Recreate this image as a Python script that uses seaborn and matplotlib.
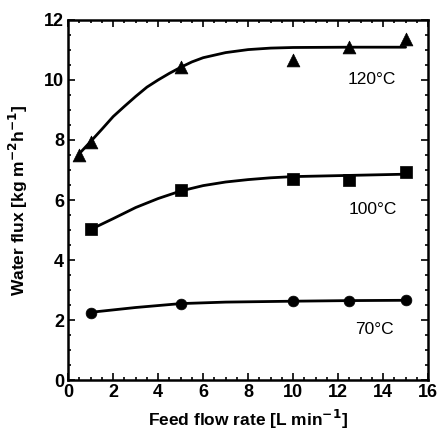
import numpy as np
import pandas as pd
import matplotlib
matplotlib.use("Agg")
import matplotlib.pyplot as plt
import seaborn as sns
from matplotlib.ticker import MultipleLocator

# measured points
flow_120 = [0.5, 1, 5, 10, 12.5, 15]
flux_120 = [7.49, 7.94, 10.42, 10.68, 11.1, 11.35]
flow_100 = [1, 5, 10, 12.5, 15]
flux_100 = [5.02, 6.32, 6.71, 6.68, 6.93]
flow_70 = [1, 5, 10, 12.5, 15]
flux_70 = [2.25, 2.53, 2.63, 2.63, 2.66]

# fitted curves
fit_x_120 = [0.5, 1, 1.5, 2, 2.5, 3, 3.5, 4, 4.5, 5, 5.5, 6, 7, 8, 9, 10, 12.5, 15]
fit_y_120 = [7.55, 7.95, 8.36, 8.78, 9.12, 9.45, 9.76, 10.0, 10.22, 10.42, 10.6,
             10.74, 10.91, 11.01, 11.06, 11.08, 11.09, 11.09]
fit_x_100 = [1, 2, 3, 4, 5, 6, 7, 8, 9, 10, 12.5, 15]
fit_y_100 = [5.02, 5.38, 5.75, 6.05, 6.3, 6.48, 6.6, 6.68, 6.74, 6.78, 6.82, 6.86]
fit_x_70 = [1, 3, 5, 7, 10, 12.5, 15]
fit_y_70 = [2.26, 2.42, 2.55, 2.6, 2.63, 2.65, 2.66]

labels = ["120°C", "100°C", "70°C"]
label_pos = [(13.5, 10.0), (13.55, 5.7), (13.6, 1.68)]

sns.set_style("ticks")
plt.rcParams['font.family'] = ['Liberation Sans', 'DejaVu Sans']
plt.rcParams['font.weight'] = 'bold'
plt.rcParams['text.color'] = 'black'
plt.rcParams['axes.labelcolor'] = 'black'
plt.rcParams['xtick.color'] = 'black'
plt.rcParams['ytick.color'] = 'black'
plt.rcParams['axes.edgecolor'] = 'black'
plt.rcParams['mathtext.default'] = 'bf'

fig = plt.figure(figsize=(4.4, 4.32), dpi=100)
ax = fig.add_axes([0.155, 0.12, 0.818, 0.834])

series = [
    (fit_x_120, fit_y_120, flow_120, flux_120, "^", 85),
    (fit_x_100, fit_y_100, flow_100, flux_100, "s", 65),
    (fit_x_70, fit_y_70, flow_70, flux_70, "o", 60),
]
for fx, fy, px, py, mk, sz in series:
    sns.lineplot(x=fx, y=fy, ax=ax, color="black", linewidth=2.0, sort=True)
    sns.scatterplot(x=px, y=py, ax=ax, marker=mk, s=sz, color="black",
                    edgecolor="black", linewidth=0.5, zorder=3)

for lab, (lx, ly) in zip(labels, label_pos):
    ax.text(lx, ly, lab, ha="center", va="center", fontsize=12.5,
            fontweight="normal", color="black")

ax.set_xlim(0, 16)
ax.set_ylim(0, 12)
ax.xaxis.set_major_locator(MultipleLocator(2))
ax.xaxis.set_minor_locator(MultipleLocator(0.5))
ax.yaxis.set_major_locator(MultipleLocator(2))
ax.yaxis.set_minor_locator(MultipleLocator(0.5))
ax.tick_params(which="both", direction="in", top=True, right=True, width=1.2)
ax.tick_params(which="major", length=5, labelsize=13, pad=3)
ax.tick_params(which="minor", length=2.5)
for lbl in ax.get_xticklabels() + ax.get_yticklabels():
    lbl.set_fontweight("bold")
for sp in ax.spines.values():
    sp.set_linewidth(1.8)

ax.set_xlabel("Feed flow rate [L min$^{-1}$]", fontsize=12.5,
              fontweight="bold", labelpad=5)
ax.set_ylabel("Water flux [kg m$^{-2}$h$^{-1}$]", fontsize=12.5,
              fontweight="bold", labelpad=10)

fig.savefig("out.png", dpi=100)
